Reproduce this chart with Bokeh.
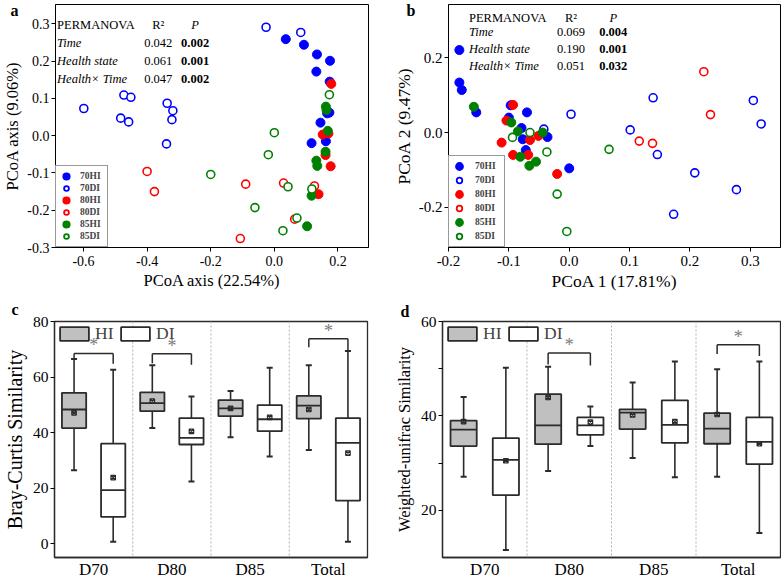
from bokeh.plotting import figure
from bokeh.layouts import column, row
from bokeh.models import (ColumnDataSource, Range1d, FactorRange, FixedTicker,
                          Label, Legend, LegendItem, Span, Title)
from bokeh.transform import dodge
from bokeh.core.properties import value
from bokeh.embed import file_html
from bokeh.resources import INLINE

# ---------------- data ----------------
series_names = ["70HI", "70DI", "80HI", "80DI", "85HI", "85DI"]
series_colors = ["#0000ff", "#0000ff", "#ff0000", "#ff0000", "#008000", "#008000"]
series_filled = [True, False, True, False, True, False]

# Panel a (PCoA axis 22.54% / 9.06%)
a_70HI_x = [0.036, 0.093, 0.134, 0.175, 0.132, 0.174, 0.166, 0.173, 0.145, 0.117, 0.162]
a_70HI_y = [0.259, 0.244, 0.218, 0.201, 0.172, 0.145, 0.060, 0.062, 0.035, -0.020, -0.015]
a_70DI_x = [-0.599, -0.473, -0.451, -0.483, -0.458, -0.337, -0.319, -0.322, -0.339, -0.026, 0.083]
a_70DI_y = [0.073, 0.109, 0.103, 0.047, 0.037, 0.087, 0.067, 0.043, -0.022, 0.291, 0.277]
a_80HI_x = [0.179, 0.152, 0.170, 0.161, 0.177, 0.139]
a_80HI_y = [0.139, 0.003, 0.006, -0.052, -0.082, -0.157]
a_80DI_x = [-0.400, -0.377, -0.090, -0.107, 0.029, 0.064, 0.126]
a_80DI_y = [-0.096, -0.150, -0.130, -0.276, -0.127, -0.224, -0.135]
a_85HI_x = [0.162, 0.164, 0.168, 0.161, 0.132, 0.135, 0.117, 0.103]
a_85HI_y = [0.078, 0.069, 0.013, -0.043, -0.067, -0.081, -0.161, -0.243]
a_85DI_x = [-0.200, -0.061, 0.000, -0.019, 0.043, 0.071, 0.027, 0.173, 0.118]
a_85DI_y = [-0.104, -0.193, 0.008, -0.051, -0.137, -0.221, -0.255, 0.110, -0.143]

# Panel b (PCoA 1 17.81% / PCoA 2 9.47%)
b_70HI_x = [-0.182, -0.182, -0.178, -0.154, -0.097, -0.070, -0.079, -0.077, -0.072, -0.036, 0.000, -0.100]
b_70HI_y = [0.221, 0.134, 0.114, 0.054, 0.073, 0.054, 0.012, -0.018, -0.047, -0.012, -0.096, 0.040]
b_70DI_x = [0.003, -0.042, 0.139, 0.305, 0.318, 0.101, 0.146, 0.208, 0.277, 0.173]
b_70DI_y = [0.049, 0.009, 0.093, 0.086, 0.023, 0.007, -0.059, -0.108, -0.153, -0.219]
b_80HI_x = [-0.093, -0.104, -0.112, -0.093, -0.068, -0.065, -0.051, -0.020]
b_80HI_y = [0.074, 0.032, -0.027, -0.060, -0.060, -0.020, -0.009, -0.111]
b_80DI_x = [0.223, 0.234, 0.116, 0.138]
b_80DI_y = [0.163, 0.048, -0.023, -0.029]
b_85HI_x = [-0.158, -0.096, -0.085, -0.081, -0.066, -0.055, -0.044]
b_85HI_y = [0.069, 0.027, 0.003, -0.065, -0.089, -0.078, 0.000]
b_85DI_x = [-0.094, -0.065, -0.037, -0.020, -0.004, 0.066]
b_85DI_y = [-0.013, 0.000, -0.052, -0.165, -0.265, -0.045]

permanova_terms = ["Time", "Health state", "Health\u00d7 Time"]
a_r2 = ["0.042", "0.061", "0.047"]
a_p = ["0.002", "0.001", "0.002"]
b_r2 = ["0.069", "0.190", "0.051"]
b_p = ["0.004", "0.001", "0.032"]

a_xticks = [-0.6, -0.4, -0.2, 0.0, 0.2]
a_xtick_labels = ["-0.6", "-0.4", "-0.2", "0.0", "0.2"]
a_yticks = [-0.3, -0.2, -0.1, 0.0, 0.1, 0.2, 0.3]
a_ytick_labels = ["-0.3", "-0.2", "-0.1", "0.0", "0.1", "0.2", "0.3"]
b_xticks = [-0.2, -0.1, 0.0, 0.1, 0.2, 0.3]
b_xtick_labels = ["-0.2", "-0.1", "0.0", "0.1", "0.2", "0.3"]
b_yticks = [-0.2, 0.0, 0.2]
b_ytick_labels = ["-0.2", "0.0", "0.2"]

# Box panels
groups = ["D70", "D80", "D85", "Total"]
box_series = ["HI", "DI"]
# Bray-Curtis (c): low whisker, q1, median, q3, high whisker, mean
c_HI_low = [26.4, 41.6, 38.3, 33.7]
c_HI_q1 = [41.6, 47.7, 45.9, 45.0]
c_HI_med = [48.3, 50.6, 48.7, 49.7]
c_HI_q3 = [54.3, 54.5, 51.7, 53.2]
c_HI_high = [66.5, 64.2, 55.0, 64.2]
c_HI_mean = [47.1, 51.3, 48.7, 48.3]
c_DI_low = [0.7, 22.4, 31.4, 0.7]
c_DI_q1 = [9.6, 35.7, 40.5, 15.5]
c_DI_med = [19.3, 38.1, 44.8, 36.3]
c_DI_q3 = [36.0, 45.2, 49.9, 45.2]
c_DI_high = [62.6, 53.0, 63.3, 69.4]
c_DI_mean = [23.8, 40.4, 45.5, 32.6]
c_sig_groups = ["D70", "D80", "Total"]
c_sig_top = [68.5, 68.4, 73.8]
c_sig_left = [66.6, 65.0, 70.7]
c_sig_right = [64.8, 64.4, 69.5]

# Weighted-unifrac (d)
d_HI_low = [27.1, 28.3, 31.1, 27.1]
d_HI_q1 = [33.6, 34.0, 37.2, 34.1]
d_HI_med = [37.1, 38.0, 40.7, 37.3]
d_HI_q3 = [39.0, 44.6, 41.4, 40.6]
d_HI_high = [44.0, 50.4, 47.1, 49.9]
d_HI_mean = [38.8, 43.9, 40.2, 40.3]
d_DI_low = [11.6, 33.6, 27.0, 15.2]
d_DI_q1 = [23.2, 36.0, 34.3, 29.8]
d_DI_med = [30.7, 38.0, 38.1, 34.5]
d_DI_q3 = [35.3, 39.7, 43.3, 39.7]
d_DI_high = [50.2, 42.0, 51.5, 51.5]
d_DI_mean = [30.5, 38.7, 38.8, 34.1]
d_sig_groups = ["D80", "Total"]
d_sig_top = [53.3, 55.1]
d_sig_left = [50.9, 53.1]
d_sig_right = [50.7, 52.7]

c_yticks = [0, 20, 40, 60, 80]
c_ytick_labels = ["0", "20", "40", "60", "80"]
d_yticks = [20, 40, 60]
d_ytick_labels = ["20", "40", "60"]
d_yminor = [30, 50]

# ---------------- styling helpers ----------------
SERIF = "Liberation Serif"
DARK = "#2b2b2b"


def base_fig(width, height, xr, yr, mb):
    p = figure(width=width, height=height, x_range=xr, y_range=yr,
               output_backend="svg", toolbar_location=None,
               min_border_left=mb[0], min_border_right=mb[1],
               min_border_top=mb[2], min_border_bottom=mb[3])
    p.grid.visible = False
    p.outline_line_color = "black"
    p.outline_line_width = 1
    p.background_fill_color = "white"
    p.border_fill_color = "white"
    return p


def style_axis(ax, tick_size, title_size):
    ax.axis_line_color = "black"
    ax.axis_line_width = 1
    ax.major_tick_line_color = "black"
    ax.major_tick_out = 4
    ax.major_tick_in = 0
    ax.minor_tick_line_color = None
    ax.major_label_text_font = SERIF
    ax.major_label_text_font_size = tick_size
    ax.major_label_text_color = "black"
    ax.axis_label_text_font = SERIF
    ax.axis_label_text_font_size = title_size
    ax.axis_label_text_font_style = "normal"
    ax.axis_label_text_color = "black"
    ax.major_label_standoff = 2
    ax.axis_label_standoff = 2


def add_table(p, x_left, x_r2, x_p, ys, r2_vals, p_vals):
    kw = dict(text_font=SERIF, text_font_size="12.5px", text_color="black",
              text_baseline="alphabetic")
    p.add_layout(Label(x=x_left, y=ys[0], text="PERMANOVA", **kw))
    p.add_layout(Label(x=x_r2, y=ys[0], text="R\u00b2", text_align="center", **kw))
    p.add_layout(Label(x=x_p, y=ys[0], text="P", text_align="center",
                       text_font_style="italic", **kw))
    for term, r2, pv, yy in zip(permanova_terms, r2_vals, p_vals, ys[1:]):
        p.add_layout(Label(x=x_left, y=yy, text=term, text_font_style="italic", **kw))
        p.add_layout(Label(x=x_r2, y=yy, text=r2, text_align="center", **kw))
        p.add_layout(Label(x=x_p, y=yy, text=pv, text_align="center",
                           text_font_style="bold", **kw))


def add_letter(p, letter, offset, standoff, valign):
    p.add_layout(Title(text=letter, align="left", offset=offset, standoff=standoff,
                       vertical_align=valign, text_font=SERIF, text_font_size="16px",
                       text_font_style="bold", text_color="black"), "above")


def scatter_panel(width, height, mb, xr, yr, xt, xtl, yt, ytl, xtitle, ytitle,
                  xy, tick_size, title_size, leg):
    p = base_fig(width, height, Range1d(*xr), Range1d(*yr), mb)
    p.xaxis.ticker = FixedTicker(ticks=xt)
    p.xaxis.major_label_overrides = dict(zip(xt, xtl))
    p.yaxis.ticker = FixedTicker(ticks=yt)
    p.yaxis.major_label_overrides = dict(zip(yt, ytl))
    p.xaxis.axis_label = xtitle
    p.yaxis.axis_label = ytitle
    for ax in p.axis:
        style_axis(ax, tick_size, title_size)
    p.xaxis.major_label_standoff = 4
    items = []
    gh, pad, stand, lw, mk_lw = leg
    for name, color, filled, (xs, ys) in zip(series_names, series_colors, series_filled, xy):
        # legend swatch renderer (drawn underneath, fully covered by the real markers)
        if filled:
            proxy = p.scatter(xs, ys, size=3, marker="circle", fill_color=color,
                              line_color=color, line_width=mk_lw)
            p.scatter(xs, ys, size=9, marker="circle", fill_color=color,
                      line_color=color, line_width=1)
        else:
            proxy = p.scatter(xs, ys, size=3, marker="circle", fill_color="white",
                              line_color=color, line_width=1.8)
            p.scatter(xs, ys, size=8, marker="circle", fill_color="white",
                      line_color=color, line_width=1.6)
        items.append(LegendItem(label=name, renderers=[proxy]))
    legend = Legend(items=items, location=(0, 0), orientation="vertical",
                    glyph_width=gh, glyph_height=gh, label_height=gh, label_width=lw,
                    spacing=0, padding=pad, margin=0, label_standoff=stand,
                    border_line_color="#333333", border_line_width=1,
                    background_fill_color="white", background_fill_alpha=1,
                    label_text_font=SERIF, label_text_font_style="bold",
                    label_text_font_size="9.5px", label_text_baseline="middle")
    p.add_layout(legend, "center")
    return p


BOX_W = 0.31


def box_panel(width, height, mb, yr, yt, ytl, yminor, ytitle, ytitle_size,
              hi, di, sig):
    p = base_fig(width, height, FactorRange(factors=groups), Range1d(*yr), mb)
    p.outline_line_color = DARK
    p.outline_line_width = 1.3
    p.yaxis.ticker = FixedTicker(ticks=yt, minor_ticks=yminor)
    p.yaxis.major_label_overrides = dict(zip(yt, ytl))
    p.yaxis.axis_label = ytitle
    p.xaxis.axis_label = None
    for ax in p.axis:
        style_axis(ax, "15.5px", ytitle_size)
    p.yaxis.minor_tick_line_color = "black"
    p.yaxis.minor_tick_out = 4
    p.yaxis.minor_tick_in = 0
    p.yaxis.axis_label_standoff = 4
    p.xaxis.major_label_text_font_size = "17px"
    p.xaxis.major_tick_line_color = None
    p.xaxis.major_tick_out = 0
    p.xaxis.major_label_standoff = 2
    p.axis.axis_line_color = DARK
    p.axis.axis_line_width = 1.3

    for i in range(1, len(groups)):
        p.add_layout(Span(location=i, dimension="height", line_color="#b0b0b0",
                          line_dash="2 2", line_width=1))

    for name, st, off, fill in ((box_series[0], hi, -0.25, "#c0c0c0"),
                                (box_series[1], di, 0.25, "white")):
        src = ColumnDataSource(dict(g=groups, low=st[0], q1=st[1], med=st[2],
                                    q3=st[3], high=st[4], mean=st[5]))
        xc = dodge("g", off, range=p.x_range)
        xl = dodge("g", off - BOX_W / 2, range=p.x_range)
        xrr = dodge("g", off + BOX_W / 2, range=p.x_range)
        p.segment(x0=xc, y0="q3", x1=xc, y1="high", source=src,
                  line_color=DARK, line_width=1.6)
        p.segment(x0=xc, y0="low", x1=xc, y1="q1", source=src,
                  line_color=DARK, line_width=1.6)
        p.scatter(x=xc, y="high", marker="dash", size=6, source=src,
                  line_color=DARK, line_width=2)
        p.scatter(x=xc, y="low", marker="dash", size=6, source=src,
                  line_color=DARK, line_width=2)
        p.vbar(x=xc, width=BOX_W, bottom="q1", top="q3", source=src,
               fill_color=fill, line_color=DARK, line_width=1.8, legend_label=name)
        p.segment(x0=xl, y0="med", x1=xrr, y1="med", source=src,
                  line_color=DARK, line_width=1.8)
        p.scatter(x=xc, y="mean", marker="square_x", size=4.5, source=src,
                  line_color=DARK, fill_color=None, line_width=1.2)

    sg, top, le, re_ = sig
    ssrc = ColumnDataSource(dict(g=sg, top=top, le=le, re=re_, star=["*"] * len(sg)))
    x_hi = dodge("g", -0.25, range=p.x_range)
    x_di = dodge("g", 0.25, range=p.x_range)
    p.segment(x0=x_hi, y0="top", x1=x_di, y1="top", source=ssrc, line_color=DARK, line_width=1.5)
    p.segment(x0=x_hi, y0="top", x1=x_hi, y1="le", source=ssrc, line_color=DARK, line_width=1.5)
    p.segment(x0=x_di, y0="top", x1=x_di, y1="re", source=ssrc, line_color=DARK, line_width=1.5)
    p.text(x="g", y="top", text="star", source=ssrc, text_font=value(SERIF),
           text_font_size="18px", text_color="#7a7a7a", text_align="center",
           text_baseline="middle", y_offset=-8)

    lg = p.legend[0]
    lg.orientation = "horizontal"
    lg.location = "top_left"
    lg.glyph_width = 36
    lg.glyph_height = 17
    lg.label_standoff = 3
    lg.spacing = 2
    lg.padding = 0
    lg.margin = 2
    lg.border_line_color = None
    lg.background_fill_alpha = 0
    lg.label_text_font = SERIF
    lg.label_text_font_size = "17.5px"
    lg.label_text_baseline = "middle"
    return p


# ---------------- panels ----------------
pa = scatter_panel(390, 296, (52, 22, 4, 49), (-0.688, 0.296), (-0.30, 0.352),
                   a_xticks, a_xtick_labels, a_yticks, a_ytick_labels,
                   "PCoA axis (22.54%)", "PCoA axis (9.06%)",
                   [(a_70HI_x, a_70HI_y), (a_70DI_x, a_70DI_y), (a_80HI_x, a_80HI_y),
                    (a_80DI_x, a_80DI_y), (a_85HI_x, a_85HI_y), (a_85DI_x, a_85DI_y)],
                   "14px", "16.5px", (12, 4, 8, 23, 3.4))
add_table(pa, -0.683, -0.365, -0.249, [0.298, 0.250, 0.201, 0.152], a_r2, a_p)
add_letter(pa, "a", -45, -29, "bottom")

pb = scatter_panel(391, 296, (52, 1, 4, 49), (-0.2, 0.35), (-0.308, 0.343),
                   b_xticks, b_xtick_labels, b_yticks, b_ytick_labels,
                   "PCoA 1 (17.81%)", "PCoA 2 (9.47%)",
                   [(b_70HI_x, b_70HI_y), (b_70DI_x, b_70DI_y), (b_80HI_x, b_80HI_y),
                    (b_80DI_x, b_80DI_y), (b_85HI_x, b_85HI_y), (b_85DI_x, b_85DI_y)],
                   "15px", "17.5px", (14, 3, 9, 26, 3.2))
add_table(pb, -0.166, 0.003, 0.073, [0.308, 0.268, 0.223, 0.179], b_r2, b_p)
add_letter(pb, "b", -42, -29, "bottom")

pc = box_panel(390, 285, (50, 23, 25, 19), (-5, 80), c_yticks, c_ytick_labels, [],
               "Bray-Curtis Similarity", "20px",
               (c_HI_low, c_HI_q1, c_HI_med, c_HI_q3, c_HI_high, c_HI_mean),
               (c_DI_low, c_DI_q1, c_DI_med, c_DI_q3, c_DI_high, c_DI_mean),
               (c_sig_groups, c_sig_top, c_sig_left, c_sig_right))
add_letter(pc, "c", -43, 4, "top")

pd_ = box_panel(391, 285, (52, 1, 23, 21), (10, 60), d_yticks, d_ytick_labels, d_yminor,
                "Weighted-unifrac Similarity", "16.5px",
                (d_HI_low, d_HI_q1, d_HI_med, d_HI_q3, d_HI_high, d_HI_mean),
                (d_DI_low, d_DI_q1, d_DI_med, d_DI_q3, d_DI_high, d_DI_mean),
                (d_sig_groups, d_sig_top, d_sig_left, d_sig_right))
add_letter(pd_, "d", -42, 0, "top")

layout = column(row(pa, pb), row(pc, pd_))

with open("out.html", "w") as f:
    f.write(file_html(layout, INLINE))
